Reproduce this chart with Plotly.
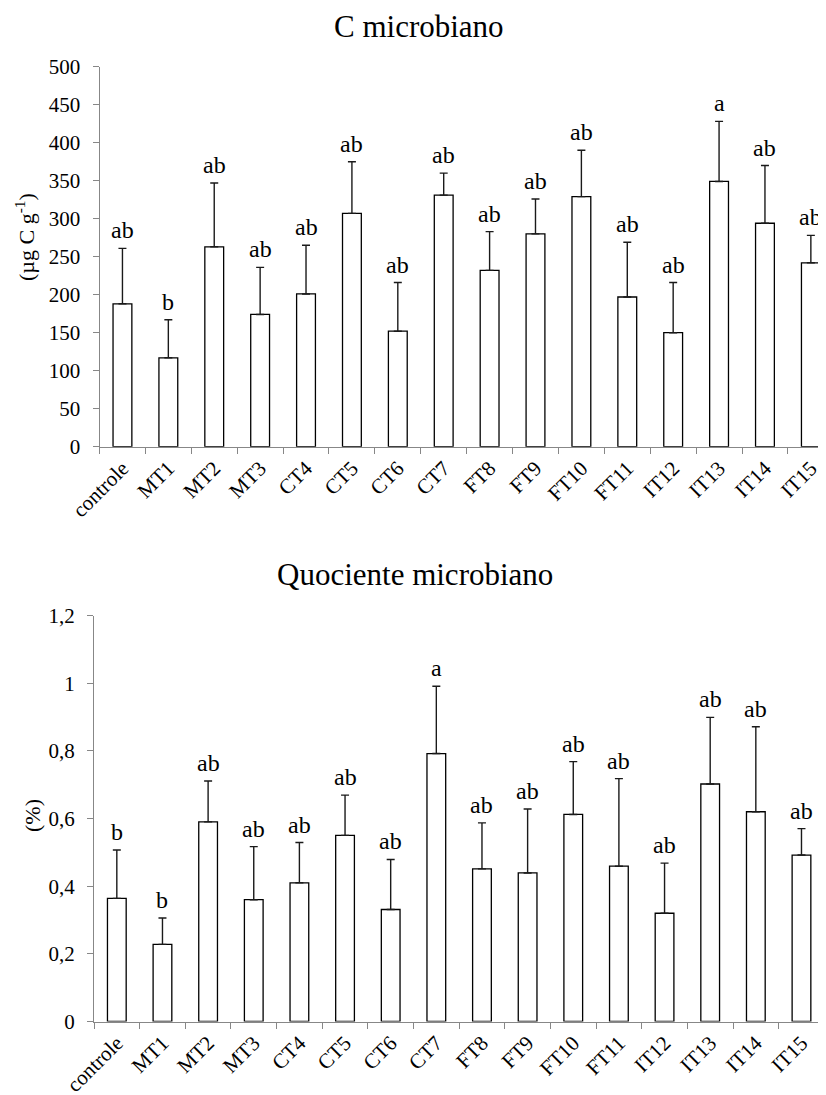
import plotly.graph_objects as go

# ---- data ----
categories = ["controle", "MT1", "MT2", "MT3", "CT4", "CT5", "CT6", "CT7",
              "FT8", "FT9", "FT10", "FT11", "IT12", "IT13", "IT14", "IT15"]

cmic_values = [188, 117, 263, 174, 201, 307, 152, 331, 232, 280, 329, 197, 150, 349, 294, 242]
cmic_errors = [73, 50, 84, 62, 64, 68, 64, 29, 51, 46, 61, 72, 66, 79, 76, 36]
cmic_letters = ["ab", "b", "ab", "ab", "ab", "ab", "ab", "ab", "ab", "ab", "ab", "ab", "ab", "a", "ab", "ab"]

qmic_values = [0.364, 0.228, 0.590, 0.360, 0.410, 0.550, 0.331, 0.792, 0.451, 0.439, 0.612, 0.459, 0.320, 0.702, 0.620, 0.492]
qmic_errors = [0.143, 0.078, 0.121, 0.157, 0.119, 0.119, 0.148, 0.199, 0.136, 0.189, 0.156, 0.259, 0.148, 0.197, 0.251, 0.078]
qmic_letters = ["b", "b", "ab", "ab", "ab", "ab", "ab", "a", "ab", "ab", "ab", "ab", "ab", "ab", "ab", "ab"]

top_title = "C microbiano"
bottom_title = "Quociente microbiano"
top_ylabel = "(µg C g<sup>-1</sup>)"
bottom_ylabel = "(%)"

# ---- style ----
OFF = 8                      # browser body margin
W, H = 826 - OFF, 1095 - OFF
FONT = "Liberation Serif"
AXIS_GRAY = "#878787"
TICK_SIZE = 21


def px_x(x):
    return (x - OFF) / W


def px_y(y):
    return 1 - (y - OFF) / H


fig = go.Figure()

bar_style = dict(marker=dict(color="white", line=dict(color="black", width=1.3)),
                 width=0.41, showlegend=False, hoverinfo="skip")
err_style = dict(type="data", symmetric=False, color="#1a1a1a", thickness=1.4, width=4)

fig.add_trace(go.Bar(x=categories, y=cmic_values,
                     error_y=dict(array=cmic_errors, arrayminus=[0] * len(cmic_errors), **err_style),
                     xaxis="x", yaxis="y", **bar_style))
fig.add_trace(go.Bar(x=categories, y=qmic_values,
                     error_y=dict(array=qmic_errors, arrayminus=[0] * len(qmic_errors), **err_style),
                     xaxis="x2", yaxis="y2", **bar_style))

letter_font = dict(family=FONT, size=24, color="black")
annotations = []
for c, v, e, t in zip(categories, cmic_values, cmic_errors, cmic_letters):
    annotations.append(dict(x=c, y=v + e, xref="x", yref="y", text=t, showarrow=False,
                            yanchor="bottom", yshift=3, font=letter_font))
for c, v, e, t in zip(categories, qmic_values, qmic_errors, qmic_letters):
    annotations.append(dict(x=c, y=v + e, xref="x2", yref="y2", text=t, showarrow=False,
                            yanchor="bottom", yshift=3, font=letter_font))

annotations += [
    dict(x=px_x(419), y=px_y(26), xref="paper", yref="paper", text=top_title, showarrow=False,
         xanchor="center", yanchor="middle", font=dict(family=FONT, size=31, color="black")),
    dict(x=px_x(415), y=px_y(574), xref="paper", yref="paper", text=bottom_title, showarrow=False,
         xanchor="center", yanchor="middle", font=dict(family=FONT, size=31, color="black")),
    dict(x=px_x(25), y=px_y(237), xref="paper", yref="paper", text=top_ylabel, showarrow=False,
         textangle=-90, xanchor="center", yanchor="middle", font=dict(family=FONT, size=22, color="black")),
    dict(x=px_x(32), y=px_y(816), xref="paper", yref="paper", text=bottom_ylabel, showarrow=False,
         textangle=-90, xanchor="center", yanchor="middle", font=dict(family=FONT, size=22, color="black")),
]

xcommon = dict(type="category", showline=True, linecolor=AXIS_GRAY, linewidth=1,
               ticks="outside", ticklen=6, tickcolor=AXIS_GRAY, tickwidth=1,
               tickson="boundaries", tickangle=-45, showgrid=False, zeroline=False,
               tickfont=dict(family=FONT, size=TICK_SIZE, color="black"), automargin=False)
ycommon = dict(showline=True, linecolor=AXIS_GRAY, linewidth=1, ticks="outside", ticklen=6,
               tickcolor=AXIS_GRAY, tickwidth=1, showgrid=False, zeroline=False,
               tickfont=dict(family=FONT, size=TICK_SIZE, color="black"),
               ticklabelstandoff=8, automargin=False)

fig.update_layout(
    width=W, height=H,
    margin=dict(l=0, r=0, t=0, b=0),
    paper_bgcolor="white", plot_bgcolor="white",
    separators=", ",
    barmode="group",
    xaxis=dict(domain=[px_x(99.5), 1.0], range=[-0.5, 15.33], anchor="y", **xcommon),
    yaxis=dict(domain=[px_y(446.7), px_y(66.7)], range=[0, 500], dtick=50, tick0=0,
               anchor="x", **ycommon),
    xaxis2=dict(domain=[px_x(94), px_x(824.3)], range=[-0.5, 15.5], anchor="y2", **xcommon),
    yaxis2=dict(domain=[px_y(1021.5), px_y(615.5)], range=[0, 1.2], dtick=0.2, tick0=0,
                anchor="x2", **ycommon),
    annotations=annotations,
)

fig.write_html("out.html")
